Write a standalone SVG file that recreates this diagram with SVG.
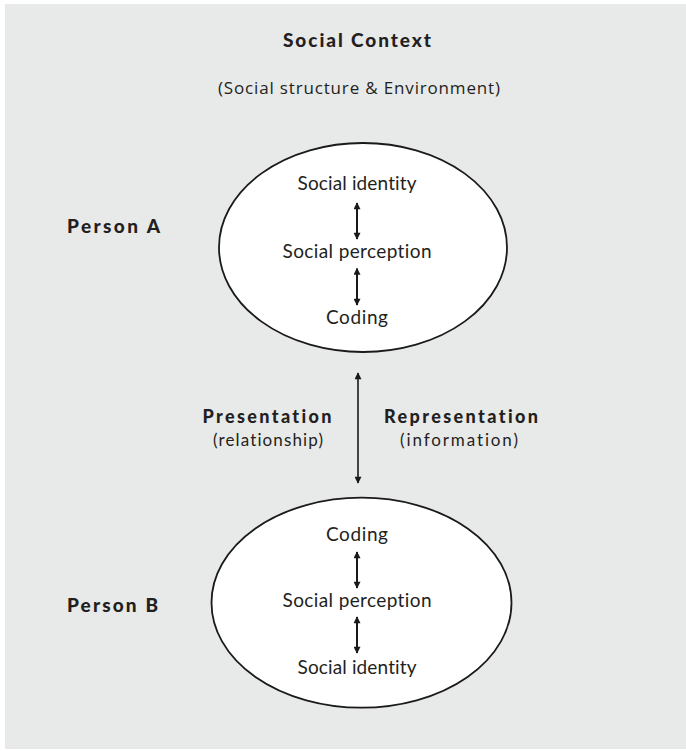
<svg xmlns="http://www.w3.org/2000/svg" width="686" height="751" viewBox="0 0 686 751">
  <defs>
    <style>
      .bg { fill: #e8e9e9; }
      .ell { fill: #ffffff; stroke: #1a1a1a; stroke-width: 1.8; }
      .t { font-family: "Lato", "Liberation Sans", sans-serif; font-size: 19px; fill: #231f20; text-anchor: middle; font-variant-ligatures: none; }
      .p { font-family: "Lato", "Liberation Sans", sans-serif; font-size: 17px; fill: #231f20; text-anchor: middle; font-variant-ligatures: none; }
      .b { font-family: "Lato", "Liberation Sans", sans-serif; font-size: 19px; font-weight: 900; fill: #231f20; font-variant-ligatures: none; }
      .bs { font-family: "Lato", "Liberation Sans", sans-serif; font-size: 18px; font-weight: 900; fill: #231f20; text-anchor: middle; font-variant-ligatures: none; }
      .sub { font-family: "Open Sans", "Liberation Sans", sans-serif; font-size: 17px; fill: #231f20; text-anchor: middle; }
      .arr { stroke: #1a1a1a; stroke-width: 2; fill: none; marker-start: url(#ah); marker-end: url(#ah); }
      .arrL { stroke: #1a1a1a; stroke-width: 1.6; fill: none; marker-start: url(#ahL); marker-end: url(#ahL); }
    </style>
    <marker id="ah" viewBox="0 0 10 10" refX="9" refY="5" markerUnits="userSpaceOnUse" markerWidth="8" markerHeight="7" orient="auto-start-reverse">
      <path d="M0,0 L10,5 L0,10 z" fill="#1a1a1a"/>
    </marker>
    <marker id="ahL" viewBox="0 0 10 10" refX="9" refY="5" markerUnits="userSpaceOnUse" markerWidth="9" markerHeight="7" orient="auto-start-reverse">
      <path d="M0,0 L10,5 L0,10 z" fill="#1a1a1a"/>
    </marker>
  </defs>

  <rect class="bg" x="5" y="4" width="681" height="745"/>

  <g id="context">
    <text class="b" x="357" y="47" text-anchor="middle" textLength="148">Social Context</text>
    <text class="sub" x="359" y="94" textLength="282">(Social structure &amp; Environment)</text>
  </g>

  <g id="person-a">
    <ellipse class="ell" cx="363" cy="247.5" rx="144" ry="104.5"/>
    <text class="b" x="67" y="233" textLength="93">Person A</text>
    <text class="t" x="357" y="190" textLength="119">Social identity</text>
    <text class="t" x="357" y="258" textLength="149">Social perception</text>
    <text class="t" x="357" y="324" textLength="62">Coding</text>
  </g>

  <g id="person-b">
    <ellipse class="ell" cx="361.5" cy="602.7" rx="150" ry="105"/>
    <text class="b" x="67" y="612" textLength="91">Person B</text>
    <text class="t" x="357" y="541" textLength="62">Coding</text>
    <text class="t" x="357" y="607" textLength="149">Social perception</text>
    <text class="t" x="357" y="674" textLength="119">Social identity</text>
  </g>

  <g id="link-labels">
    <text class="bs" x="267" y="423" textLength="129">Presentation</text>
    <text class="p" x="268" y="446" textLength="110">(relationship)</text>
    <text class="bs" x="461" y="423" textLength="154">Representation</text>
    <text class="p" x="459" y="446" textLength="118">(information)</text>
  </g>

  <g id="connectors">
    <line class="arr" x1="357" y1="203" x2="357" y2="239"/>
    <line class="arr" x1="357" y1="268.5" x2="357" y2="305"/>
    <line class="arrL" x1="358" y1="373" x2="358" y2="483"/>
    <line class="arr" x1="357" y1="552" x2="357" y2="588"/>
    <line class="arr" x1="357" y1="617" x2="357" y2="653"/>
  </g>
</svg>
